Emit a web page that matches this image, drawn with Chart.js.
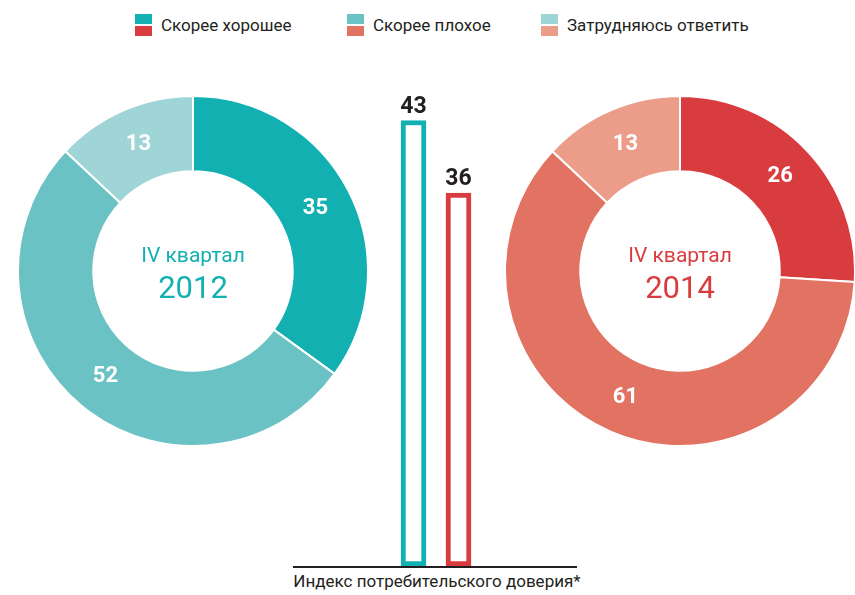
<!DOCTYPE html>
<html lang="ru">
<head>
<meta charset="utf-8">
<script src="https://cdn.jsdelivr.net/npm/chart.js@4/dist/chart.umd.min.js"></script>
<style>
  html, body { margin: 0; padding: 0; background: #fff; overflow: hidden; }
  body { width: 855px; height: 595px; position: relative; font-family: Roboto, 'Noto Sans', sans-serif; color: #231f20; }
  .box { position: absolute; }
  .legend-item { position: absolute; top: 13px; height: 24px; display: flex; align-items: center; font-size: 17px; }
  .chip { width: 17px; margin-right: 9px; }
  .chip span { display: block; height: 10px; }
  .chip span + span { margin-top: 2px; }
  #indexTitle { position: absolute; left: 283px; width: 308px; top: 571px; text-align: center; font-size: 17px; }
</style>
</head>
<body>
<div id="legend"></div>
<div class="box" style="left:17px;top:95px;width:352px;height:352px"><canvas id="donut2012"></canvas></div>
<div class="box" style="left:504px;top:95px;width:352px;height:352px"><canvas id="donut2014"></canvas></div>
<div class="box" style="left:293px;top:48px;width:284px;height:520px"><canvas id="indexChart"></canvas></div>
<div id="indexTitle">Индекс потребительского доверия*</div>
<script>
// answers, % of respondents
const segmentLabels = ['Скорее хорошее', 'Скорее плохое', 'Затрудняюсь ответить'];
const values2012 = [35, 52, 13];
const values2014 = [26, 61, 13];

// consumer confidence index
const indexLabels = ['IV квартал 2012', 'IV квартал 2014'];
const indexValues = [43, 36];

const tealColors = ['#13b0b2', '#6bc2c4', '#a0d5d7'];
const redColors = ['#d93c3f', '#e27261', '#eb9d8a'];
const legendX = [135, 347, 541];

// legend: each chip shows both palettes
const legend = document.getElementById('legend');
segmentLabels.forEach((label, i) => {
    const item = document.createElement('div');
    item.className = 'legend-item';
    item.style.left = legendX[i] + 'px';
    item.innerHTML = `<div class="chip"><span style="background:${tealColors[i]}"></span><span style="background:${redColors[i]}"></span></div>${label}`;
    legend.appendChild(item);
});

const arcLabels = {
    id: 'arcLabels',
    afterDatasetsDraw(chart) {
        const ctx = chart.ctx;
        const meta = chart.getDatasetMeta(0);
        ctx.save();
        ctx.fillStyle = '#fff';
        ctx.font = 'bold 22px Roboto, sans-serif';
        ctx.textAlign = 'center';
        ctx.textBaseline = 'middle';
        meta.data.forEach((arc, i) => {
            const p = arc.getCenterPoint();
            ctx.fillText(chart.data.datasets[0].data[i], p.x, p.y);
        });
        ctx.restore();
    }
};

const centerText = {
    id: 'centerText',
    afterDraw(chart, args, opts) {
        const ctx = chart.ctx;
        const arc = chart.getDatasetMeta(0).data[0];
        ctx.save();
        ctx.fillStyle = opts.color;
        ctx.textAlign = 'center';
        ctx.textBaseline = 'middle';
        ctx.font = '21px Roboto, sans-serif';
        ctx.fillText(opts.line1, arc.x, arc.y - 14);
        ctx.font = '31px Roboto, sans-serif';
        ctx.fillText(opts.line2, arc.x, arc.y + 19);
        ctx.restore();
    }
};

function makeDonut(id, values, colors, year) {
    return new Chart(document.getElementById(id), {
        type: 'doughnut',
        data: {
            labels: segmentLabels,
            datasets: [{
                data: values,
                backgroundColor: colors,
                borderColor: '#fff',
                borderWidth: 2
            }]
        },
        options: {
            responsive: true,
            maintainAspectRatio: false,
            animation: false,
            cutout: '57%',
            layout: { padding: 0 },
            plugins: {
                legend: { display: false },
                tooltip: { enabled: false },
                centerText: { line1: 'IV квартал', line2: year, color: colors[0] }
            }
        },
        plugins: [arcLabels, centerText]
    });
}

makeDonut('donut2012', values2012, tealColors, '2012');
makeDonut('donut2014', values2014, redColors, '2014');

const barExtras = {
    id: 'barExtras',
    afterDatasetsDraw(chart) {
        const ctx = chart.ctx;
        const y0 = chart.scales.y.getPixelForValue(0);
        ctx.save();
        ctx.strokeStyle = '#231f20';
        ctx.lineWidth = 2;
        ctx.beginPath();
        ctx.moveTo(0, y0 + 1);
        ctx.lineTo(chart.width, y0 + 1);
        ctx.stroke();
        ctx.fillStyle = '#231f20';
        ctx.font = 'bold 23px Roboto, sans-serif';
        ctx.textAlign = 'center';
        ctx.textBaseline = 'bottom';
        chart.getDatasetMeta(0).data.forEach((bar, i) => {
            ctx.fillText(indexValues[i], bar.x, bar.y - 2);
        });
        ctx.restore();
    }
};

new Chart(document.getElementById('indexChart'), {
    type: 'bar',
    data: {
        labels: indexLabels,
        datasets: [{
            data: indexValues,
            backgroundColor: '#fff',
            borderColor: [tealColors[0], redColors[0]],
            borderWidth: 5,
            borderSkipped: false,
            barThickness: 25
        }]
    },
    options: {
        responsive: true,
        maintainAspectRatio: false,
        animation: false,
        layout: { padding: { left: 98, right: 96, top: 0, bottom: 2 } },
        scales: {
            x: { display: false },
            y: { display: false, min: 0, max: 50 }
        },
        plugins: {
            legend: { display: false },
            tooltip: { enabled: false }
        }
    },
    plugins: [barExtras]
});
</script>
</body>
</html>
